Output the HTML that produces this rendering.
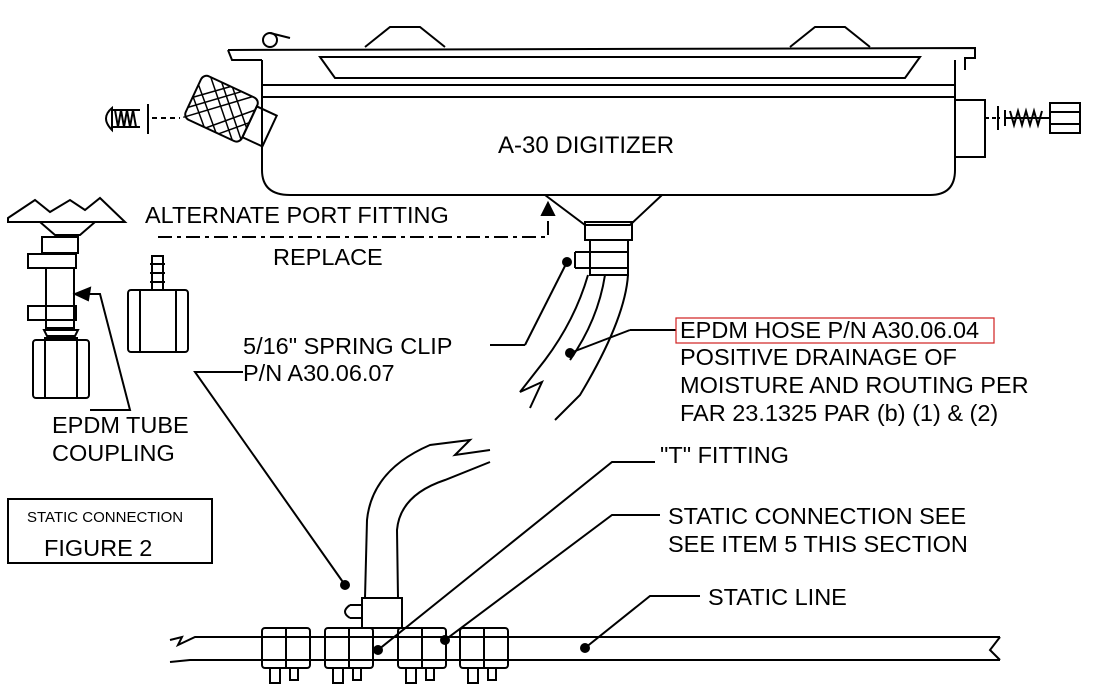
<!DOCTYPE html>
<html><head><meta charset="utf-8"><style>
html,body{margin:0;padding:0;background:#fff}
svg{display:block}
text{font-family:"Liberation Sans",Arial,sans-serif;fill:#000}
</style></head><body>
<svg width="1093" height="697" viewBox="0 0 1093 697" xmlns="http://www.w3.org/2000/svg" fill="none" stroke="#000" stroke-width="2">
<!-- Digitizer -->
<path d="M365 47 L390 27 L420 27 L445 47"/>
<path d="M790 47 L815 27 L845 27 L870 47"/>
<path d="M228 50 L975 48 L975 58 L965 58 L965 70"/>
<path d="M228 50 L232 60 L262 60"/>
<path d="M320 57 L920 57 L905 78 L335 78 Z"/>
<path d="M262 60 L262 170 Q262 195 290 195 L930 195 Q955 195 955 170 L955 60"/>
<line x1="262" y1="85" x2="955" y2="85"/>
<line x1="262" y1="97" x2="955" y2="97"/>
<circle cx="270" cy="40" r="7"/>
<path d="M270 33 L290 38"/>
<!-- right block & screw -->
<rect x="955" y="100" width="30" height="57"/>
<line x1="998" y1="106" x2="998" y2="130"/>
<line x1="985" y1="118" x2="1000" y2="118" stroke-dasharray="4 3"/>
<path d="M1005 110 L1005 126 M1005 118 L1050 118"/>
<path d="M1010 111 l4 14 l4 -14 l4 14 l4 -14 l4 14 l4 -14 l4 14 l4 -14"/>
<rect x="1050" y="103" width="30" height="30"/>
<line x1="1050" y1="112" x2="1080" y2="112"/><line x1="1050" y1="124" x2="1080" y2="124"/>
<!-- left screw -->
<path d="M112 108 Q100 118 112 130 Z"/>
<path d="M112 110 L140 110 M112 127 L140 127"/>
<path d="M115 110 l3 17 l3 -17 l3 17 l3 -17 l3 17 l3 -17 l3 17"/>
<line x1="148" y1="104" x2="148" y2="134"/>
<line x1="152" y1="118" x2="180" y2="118" stroke-dasharray="5 4"/>
<!-- knob -->
<g transform="rotate(25 222 110)">
<rect x="190" y="85" width="62" height="48" rx="6"/>
<path d="M198 85 l46 48 M210 85 l42 44 M222 85 l30 31 M190 97 l36 36 M190 110 l23 23 M244 85 l-54 48 M232 85 l-42 37 M220 85 l-30 26 M252 96 l-37 37 M252 110 l-23 23" stroke-width="1.5"/>
<rect x="252" y="92" width="22" height="34"/>
</g>
<text x="498" y="153" font-size="24" stroke="none">A-30 DIGITIZER</text>
<!-- funnel & fitting -->
<path d="M545 195 L585 225 L630 225 L662 195"/>
<rect x="585" y="222" width="47" height="18"/>
<rect x="590" y="240" width="38" height="35"/>
<path d="M575 252 L628 252 M575 268 L628 268 M575 252 L575 268"/>
<!-- hose upper -->
<path d="M588 275 Q575 320 545 360 L520 392 L542 382 L530 408"/>
<path d="M628 275 Q625 320 580 395 L555 420"/>
<path d="M605 275 Q598 320 570 360"/>
<circle cx="567" cy="262" r="4" fill="#000"/>
<line x1="567" y1="262" x2="525" y2="345"/>
<line x1="490" y1="345" x2="525" y2="345"/>
<circle cx="570" cy="353" r="4" fill="#000"/>
<line x1="570" y1="353" x2="630" y2="330"/>
<line x1="630" y1="330" x2="676" y2="330"/>
<!-- dashed alternate path -->
<path d="M158 237 L548 237 L548 215" stroke-dasharray="14 5 4 5"/>
<path d="M542 215 L548 203 L554 215 Z" fill="#000"/>
<text x="145" y="223" font-size="23.5" stroke="none">ALTERNATE PORT FITTING</text>
<text x="273" y="265" font-size="23.5" stroke="none">REPLACE</text>
<!-- alt fitting -->
<path d="M152 256 L163 256 L163 290 L152 290 Z M150 264 L165 264 M150 273 L165 273 M150 282 L165 282"/>
<rect x="128" y="290" width="60" height="62" rx="3"/>
<line x1="140" y1="290" x2="140" y2="352"/><line x1="176" y1="290" x2="176" y2="352"/>
<!-- left assembly -->
<path d="M8 218 L35 200 L50 212 L70 200 L85 210 L100 198 L125 222 L8 222 Z"/>
<path d="M40 222 L55 235 L80 235 L95 222"/>
<rect x="42" y="237" width="36" height="16"/>
<rect x="28" y="254" width="48" height="14"/>
<rect x="46" y="268" width="28" height="60"/>
<rect x="28" y="306" width="48" height="14"/>
<path d="M44 330 l34 0 l-3 6 l-28 0 z M44 338 l34 0"/>
<rect x="33" y="340" width="56" height="58" rx="3"/>
<line x1="45" y1="340" x2="45" y2="398"/><line x1="77" y1="340" x2="77" y2="398"/>
<path d="M75 294 L90 288 L88 300 Z" fill="#000"/>
<path d="M88 294 L100 294 L130 410 L90 410"/>
<text x="52" y="433" font-size="23.5" stroke="none">EPDM TUBE</text>
<text x="52" y="461" font-size="23.5" stroke="none">COUPLING</text>
<rect x="8" y="499" width="204" height="64"/>
<text x="27" y="522" font-size="15" stroke="none">STATIC CONNECTION</text>
<text x="44" y="556" font-size="23.5" stroke="none">FIGURE 2</text>
<!-- spring clip label -->
<text x="243" y="354" font-size="23.5" stroke="none">5/16" SPRING CLIP</text>
<text x="243" y="381" font-size="23.5" stroke="none">P/N A30.06.07</text>
<path d="M243 372 L195 372 L345 585"/>
<circle cx="345" cy="585" r="4" fill="#000"/>
<!-- lower hose -->
<path d="M365 598 L367 520 Q372 470 430 445 L470 440 L455 455 L490 450"/>
<path d="M398 598 L397 530 Q400 495 445 480 L490 462"/>
<rect x="362" y="598" width="40" height="30"/>
<path d="M350 605 L362 605 M350 618 L362 618 M350 605 Q340 612 350 618"/>
<!-- static line -->
<path d="M170 640 L182 637 L178 645 L195 637 L1000 637"/>
<path d="M170 662 L190 660 L1000 660"/>
<path d="M1000 637 L990 650 L1000 660"/>
<g>
<rect x="262" y="628" width="48" height="40" rx="3"/>
<rect x="325" y="628" width="48" height="40" rx="3"/>
<rect x="398" y="628" width="48" height="40" rx="3"/>
<rect x="460" y="628" width="48" height="40" rx="3"/>
<path d="M270 668 l0 15 l10 0 l0 -15 M290 668 l0 12 l8 0 l0 -12 M333 668 l0 15 l10 0 l0 -15 M353 668 l0 12 l8 0 l0 -12 M406 668 l0 15 l10 0 l0 -15 M426 668 l0 12 l8 0 l0 -12 M468 668 l0 15 l10 0 l0 -15 M488 668 l0 12 l8 0 l0 -12"/>
<line x1="286" y1="628" x2="286" y2="668"/><line x1="349" y1="628" x2="349" y2="668"/><line x1="422" y1="628" x2="422" y2="668"/><line x1="484" y1="628" x2="484" y2="668"/>
</g>
<!-- leaders -->
<circle cx="378" cy="650" r="4" fill="#000"/>
<path d="M378 650 L612 462 L655 462"/>
<circle cx="445" cy="640" r="4" fill="#000"/>
<path d="M445 640 L612 515 L660 515"/>
<circle cx="585" cy="648" r="4" fill="#000"/>
<path d="M585 648 L650 596 L700 596"/>
<!-- right labels -->
<rect x="676" y="318" width="318" height="25" stroke="#d02020" stroke-width="1.2"/>
<text x="680" y="338" font-size="23.5" stroke="none">EPDM HOSE P/N A30.06.04</text>
<text x="680" y="365" font-size="23.5" stroke="none">POSITIVE DRAINAGE OF</text>
<text x="680" y="393" font-size="23.5" stroke="none">MOISTURE AND ROUTING PER</text>
<text x="680" y="421" font-size="23.5" stroke="none">FAR 23.1325 PAR (b) (1) &amp; (2)</text>
<text x="660" y="463" font-size="23.5" stroke="none">"T" FITTING</text>
<text x="668" y="524" font-size="23.5" stroke="none">STATIC CONNECTION SEE</text>
<text x="668" y="552" font-size="23.5" stroke="none">SEE ITEM 5 THIS SECTION</text>
<text x="708" y="605" font-size="23.5" stroke="none">STATIC LINE</text>
</svg>
</body></html>
